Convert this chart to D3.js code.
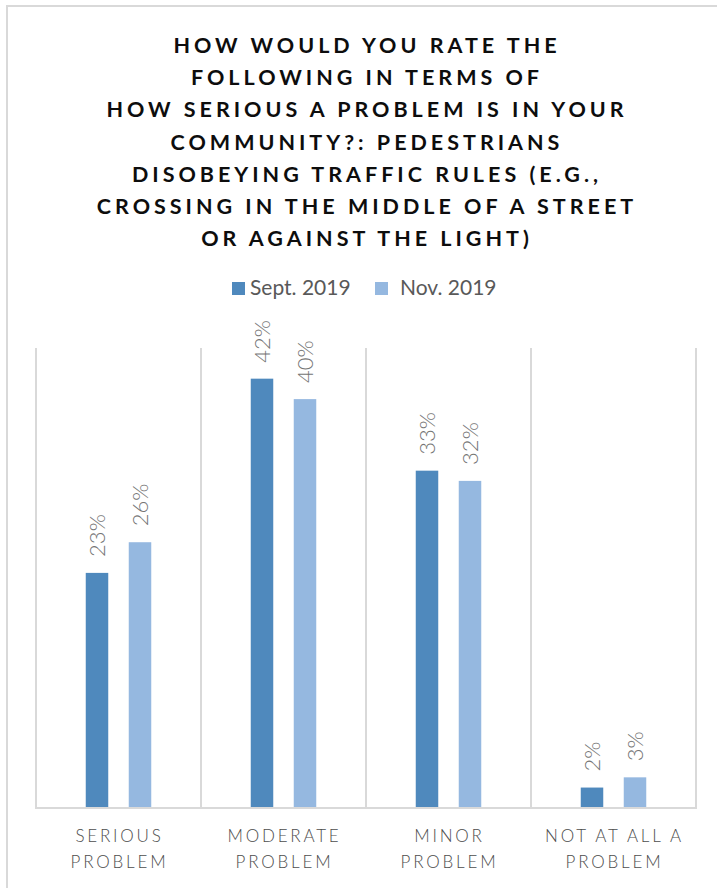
<!DOCTYPE html>
<html><head><meta charset="utf-8">
<script src="https://cdn.jsdelivr.net/npm/d3@7"></script>
<style>
html,body{margin:0;padding:0;background:#fff;}
svg{display:block;}
</style></head>
<body>
<script>
const titleLines = [
  "HOW WOULD YOU RATE THE",
  "FOLLOWING IN TERMS OF",
  "HOW SERIOUS A PROBLEM IS IN YOUR",
  "COMMUNITY?: PEDESTRIANS",
  "DISOBEYING TRAFFIC RULES (E.G.,",
  "CROSSING IN THE MIDDLE OF A STREET",
  "OR AGAINST THE LIGHT)"
];
const categories = [
  ["SERIOUS", "PROBLEM"],
  ["MODERATE", "PROBLEM"],
  ["MINOR", "PROBLEM"],
  ["NOT AT ALL A", "PROBLEM"]
];
const seriesNames = ["Sept. 2019", "Nov. 2019"];
const sept2019 = [0.23, 0.42, 0.33, 0.02];
const nov2019 = [0.26, 0.40, 0.32, 0.03];
const seriesColors = ["#4F89BD", "#95B8E0"];

const W = 717, H = 888;
const svg = d3.select("body").append("svg").attr("width", W).attr("height", H);
svg.append("rect").attr("width", W).attr("height", H).attr("fill", "#fff");
// chart frame
svg.append("rect").attr("x", 7).attr("y", 6).attr("width", W + 10).attr("height", H + 10)
  .attr("fill", "none").attr("stroke", "#D9D9D9").attr("stroke-width", 2);

const font = "Lato, 'Open Sans', sans-serif";

// title
const title = svg.append("text").attr("text-anchor", "middle")
  .attr("font-family", font).attr("font-weight", 700).attr("font-size", 21.5)
  .attr("letter-spacing", 4).attr("fill", "#0D0D0D");
titleLines.forEach((l, i) => {
  title.append("tspan").attr("x", 367).attr("y", 53 + i * 32.2).text(l);
});

// plot
const plot = {left: 36, right: 696, top: 348, bottom: 808};
const x0 = d3.scaleBand().domain(d3.range(categories.length)).range([plot.left, plot.right]);
const y = d3.scaleLinear().domain([0, 0.45]).range([plot.bottom, plot.top]);

// gridlines (category separators)
const bounds = d3.range(categories.length + 1).map(i => i < categories.length ? x0(i) : plot.right);
svg.append("g").selectAll("line").data(bounds).join("line")
  .attr("x1", d => d).attr("x2", d => d).attr("y1", plot.top).attr("y2", plot.bottom)
  .attr("stroke", "#D9D9D9").attr("stroke-width", 2);
svg.append("line").attr("x1", plot.left - 1).attr("x2", plot.right + 1)
  .attr("y1", plot.bottom).attr("y2", plot.bottom)
  .attr("stroke", "#D9D9D9").attr("stroke-width", 2);

const series = [sept2019, nov2019];
const bw = 22.5, off = 21.5;
series.forEach((vals, s) => {
  const g = svg.append("g");
  vals.forEach((v, i) => {
    const cx = x0(i) + x0.bandwidth() / 2 + (s === 0 ? -off : off);
    g.append("rect").attr("x", cx - bw / 2).attr("y", y(v))
      .attr("width", bw).attr("height", y(0) - y(v) - 1).attr("fill", seriesColors[s]);
    g.append("text").attr("transform", `translate(${cx},${y(v) - 16}) rotate(-90)`)
      .attr("dy", "0.36em").attr("text-anchor", "start")
      .attr("font-family", font).attr("font-weight", 300).attr("font-size", 22).attr("fill", "#757575")
      .text(Math.round(v * 100) + "%");
  });
});

// category labels
categories.forEach((lines, i) => {
  const cx = x0(i) + x0.bandwidth() / 2;
  lines.forEach((l, j) => {
    svg.append("text").attr("x", cx + 1).attr("y", 842 + j * 26)
      .attr("text-anchor", "middle").attr("font-family", font).attr("font-weight", 300).attr("font-size", 17)
      .attr("letter-spacing", 2.8).attr("fill", "#4D4D4D").text(l);
  });
});

// legend
const legend = svg.append("g").attr("font-family", font).attr("font-size", 21).attr("fill", "#595959");
const legX = [232, 375];
seriesNames.forEach((n, s) => {
  legend.append("rect").attr("x", legX[s]).attr("y", 282).attr("width", 13).attr("height", 13).attr("fill", seriesColors[s]);
  legend.append("text").attr("x", legX[s] + 18 + (s === 1 ? 7 : 0)).attr("y", 295).text(n);
});
</script>
</body></html>
